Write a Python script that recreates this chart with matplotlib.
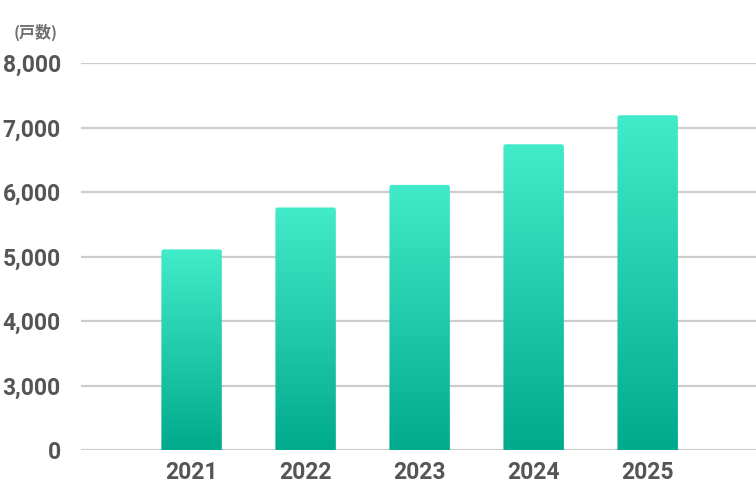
import numpy as np
import matplotlib
matplotlib.use("Agg")
import matplotlib.pyplot as plt
from matplotlib.colors import LinearSegmentedColormap
from matplotlib.patches import FancyBboxPatch

years = ["2021", "2022", "2023", "2024", "2025"]
values = [5110, 5760, 6110, 6740, 7190]
tick_values = [2000, 3000, 4000, 5000, 6000, 7000, 8000]
tick_labels = ["0", "3,000", "4,000", "5,000", "6,000", "7,000", "8,000"]
unit_label = "(戸数)"

plt.rcParams['font.family'] = ['Roboto', 'Noto Sans CJK JP', 'DejaVu Sans']

fig = plt.figure(figsize=(7.56, 4.86), dpi=100)
ax = fig.add_axes([81/756, 36/486, 675/756, 387/486])

ymin, ymax = 2000, 8000
ax.set_xlim(-0.97, 4.95)
ax.set_ylim(ymin, ymax)

for t in tick_values:
    ax.axhline(t, color="#cccccc", lw=1.6, zorder=1)

cmap = LinearSegmentedColormap.from_list("g", ["#00aa8c", "#42ecca"])
grad = np.linspace(0, 1, 256).reshape(-1, 1)
width = 0.53
bars = ax.bar(range(len(years)), values, width=width, bottom=0, color="none", zorder=2)
for i, (b, v) in enumerate(zip(bars, values)):
    x0 = b.get_x()
    im = ax.imshow(grad, cmap=cmap, origin="lower", aspect="auto",
                   extent=[x0, x0 + width, ymin, v], zorder=2)
    clip = FancyBboxPatch((x0, ymin - 500), width, v - ymin + 500,
                          boxstyle="round,pad=0,rounding_size=0.02",
                          mutation_aspect=(6000/387)/(5.92/675),
                          transform=ax.transData, facecolor="none", edgecolor="none")
    ax.add_patch(clip)
    im.set_clip_path(clip)

ax.set_xticks(range(len(years)))
ax.set_xticklabels(years)
ax.set_yticks(tick_values)
ax.set_yticklabels(tick_labels)
ax.tick_params(axis="both", length=0, labelcolor="#555555", labelsize=16.5)
ax.tick_params(axis="y", pad=14.5)
ax.tick_params(axis="x", pad=8)
for lab in ax.get_xticklabels() + ax.get_yticklabels():
    lab.set_fontweight("bold")

for s in ax.spines.values():
    s.set_visible(False)

fig.text(14/756, 1 - 32/486, unit_label, fontsize=11.5, fontweight="bold",
         color="#707070", va="center", ha="left",
         family=['Noto Sans CJK JP', 'DejaVu Sans'])

fig.savefig("out.png", dpi=100)
